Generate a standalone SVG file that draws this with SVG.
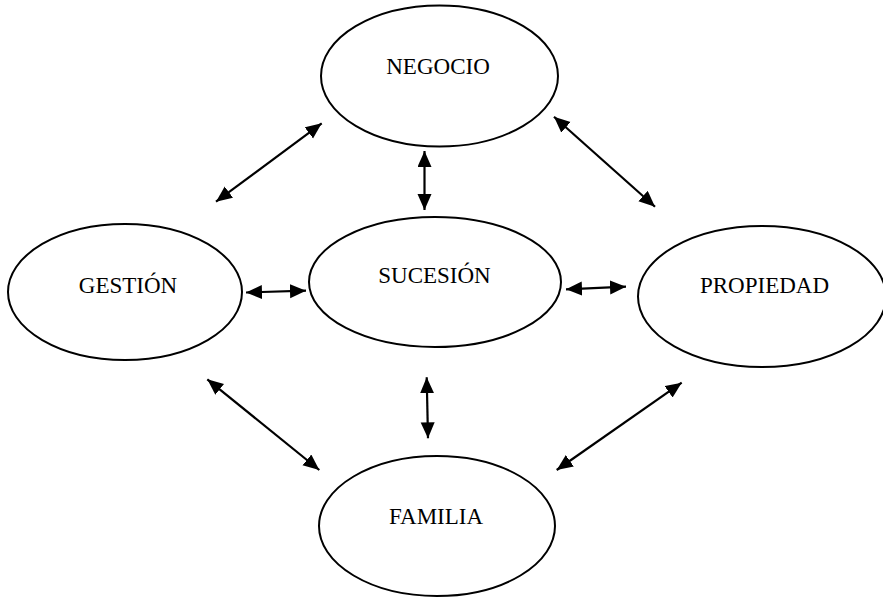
<svg xmlns="http://www.w3.org/2000/svg" width="883" height="597" viewBox="0 0 883 597">
<style>
.node ellipse{fill:#fff;stroke:#000;stroke-width:2}
.node text{font-size:23px;fill:#000;text-anchor:middle}
.conn line{stroke:#000;stroke-width:2.2;marker-start:url(#ah);marker-end:url(#ah)}
</style>
<defs>
<marker id="ah" markerUnits="userSpaceOnUse" markerWidth="17" markerHeight="15" refX="16" refY="7" orient="auto-start-reverse" viewBox="0 0 17 15">
<path d="M0,0 L16,7 L0,14 z" fill="#000"/>
</marker>
</defs>
<rect width="883" height="597" fill="#fff"/>
<g font-family="Liberation Serif, Times New Roman, DejaVu Serif, serif">
<g id="negocio" class="node"><ellipse cx="439.5" cy="76" rx="118.5" ry="70.5"/><text x="438" y="74">NEGOCIO</text></g>
<g id="gestion" class="node"><ellipse cx="125" cy="292" rx="117" ry="68"/><text x="128" y="293">GESTIÓN</text></g>
<g id="sucesion" class="node"><ellipse cx="435" cy="282" rx="126" ry="65"/><text x="434.5" y="283">SUCESIÓN</text></g>
<g id="propiedad" class="node"><ellipse cx="762" cy="296.5" rx="124" ry="70.5"/><text x="764.5" y="293">PROPIEDAD</text></g>
<g id="familia" class="node"><ellipse cx="437" cy="526" rx="118" ry="70"/><text x="436" y="524">FAMILIA</text></g>
</g>
<g id="connectors" class="conn">
<line x1="216" y1="201.7" x2="321.7" y2="123.3"/>
<line x1="424.5" y1="151" x2="424.5" y2="210"/>
<line x1="246" y1="292.5" x2="306" y2="290.7"/>
<line x1="566" y1="289.3" x2="626" y2="286.7"/>
<line x1="554" y1="116.7" x2="655" y2="206.7"/>
<line x1="207.3" y1="379.3" x2="319.3" y2="470"/>
<line x1="426.7" y1="377.3" x2="428" y2="438.3"/>
<line x1="681.7" y1="382.7" x2="556.7" y2="470"/>
</g>
</svg>
